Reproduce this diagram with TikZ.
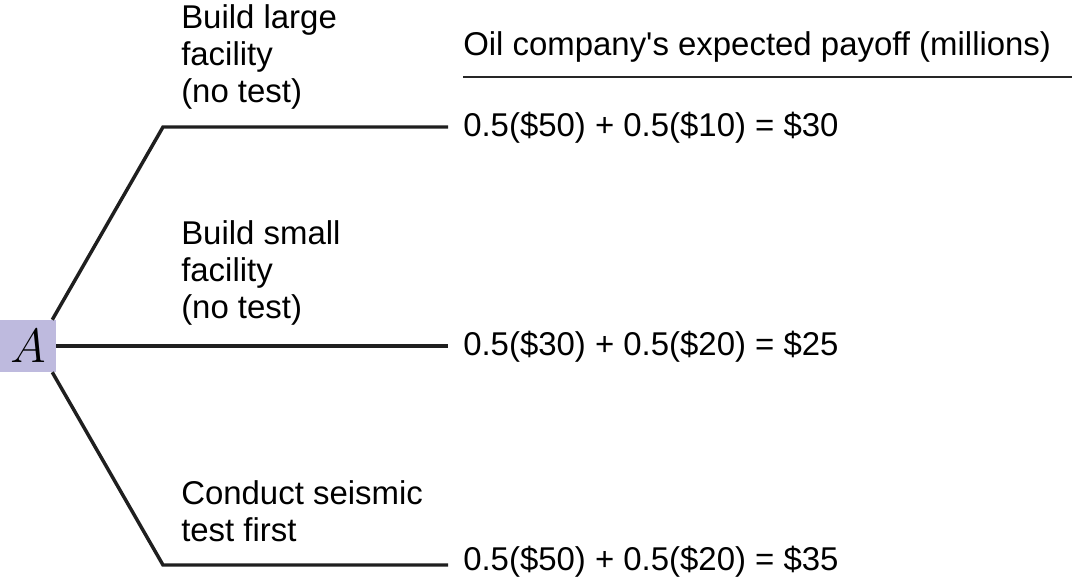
\documentclass[tikz,border=0pt]{standalone}
\usepackage{fix-cm}
\usepackage{fontspec}
\setmainfont{Liberation Sans}
\definecolor{nodefill}{RGB}{190,186,222}
\begin{document}
\begin{tikzpicture}[x=0.75pt,y=-0.75pt,
    branch/.style={line width=2.6pt,black!88},
    lbl/.style={anchor=north west,align=left,inner sep=0pt,font=\fontsize{24.7}{27.75}\selectfont},
    pay/.style={anchor=west,inner xsep=11.25pt,inner ysep=0pt,font=\fontsize{24.7}{27.75}\selectfont}]
  \useasboundingbox (0,0) rectangle (1072,579);
  % decision node
  \node[fill=nodefill,minimum width=42pt,minimum height=39pt,inner sep=0pt] (A) at (28,346)
    {\fontsize{36}{36}\selectfont$A$};
  % payoffs
  \node[anchor=west,inner sep=0pt,font=\fontsize{24.7}{27.75}\selectfont] (head) at (463,47)
    {Oil company\textquotesingle s expected payoff (millions)};
  \coordinate (ulL) at (463,77);
  \coordinate (ulR) at (1072,77);
  \draw[line width=1pt,black!85] (ulL) -- (ulR);
  \node[pay] (pay1) at (448,128) {0.5(\$50) + 0.5(\$10) = \$30};
  \node[pay] (pay2) at (448,347) {0.5(\$30) + 0.5(\$20) = \$25};
  \node[pay] (pay3) at (448,562) {0.5(\$50) + 0.5(\$20) = \$35};
  % branches
  \coordinate (b1) at (163,127);
  \coordinate (b3) at (163,565);
  \draw[branch] ([xshift=-3pt]A.north east) -- (b1) -- (b1 -| pay1.west);
  \draw[branch] (A.east) -- (A.east -| pay2.west);
  \draw[branch] ([xshift=-3pt]A.south east) -- (b3) -- (b3 -| pay3.west);
  % branch labels
  \node[lbl] (lab1) at (181,4) {Build large\\facility\\(no test)};
  \node[lbl] (lab2) at (181,220) {Build small\\facility\\(no test)};
  \node[lbl] (lab3) at (181,480) {Conduct seismic\\test first};
\end{tikzpicture}
\end{document}
